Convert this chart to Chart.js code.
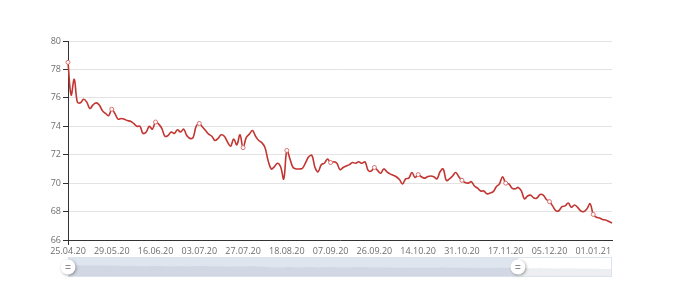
<!DOCTYPE html>
<html>
<head>
<meta charset="utf-8">
<script src="https://cdn.jsdelivr.net/npm/chart.js@4"></script>
<style>
  html, body { margin: 0; padding: 0; background: #fff; }
  #wrap { width: 680px; height: 282px; }
</style>
</head>
<body>
<div id="wrap"><canvas id="priceChart"></canvas></div>
<script>
const tickLabels = ['25.04.20', '29.05.20', '16.06.20', '03.07.20', '27.07.20', '18.08.20', '07.09.20',
    '26.09.20', '14.10.20', '31.10.20', '17.11.20', '05.12.20', '01.01.21'];
const labelStep = 14;

const prices = [
    78.5, 76.2, 77.3, 75.7, 75.65, 75.9, 75.7, 75.25, 75.5, 75.65, 75.5, 75.1, 74.9, 74.75,
    75.2, 74.9, 74.5, 74.55, 74.5, 74.4, 74.35, 74.2, 74.0, 74.0, 73.5, 73.6, 74.0, 73.8,
    74.3, 74.15, 73.85, 73.3, 73.35, 73.6, 73.5, 73.75, 73.6, 73.8, 73.35, 73.15, 73.2, 74.0,
    74.2, 73.95, 73.7, 73.45, 73.3, 73.0, 73.15, 73.4, 73.3, 72.9, 72.6, 73.1, 72.7, 73.4,
    72.5, 73.2, 73.45, 73.7, 73.3, 73.0, 72.85, 72.5, 71.6, 71.0, 71.15, 71.4, 71.15, 70.3,
    72.3, 71.7, 71.1, 71.0, 71.0, 71.05, 71.45, 71.85, 71.95, 71.1, 70.8, 71.3, 71.4, 71.7,
    71.45, 71.5, 71.4, 70.95, 71.1, 71.2, 71.3, 71.45, 71.4, 71.5, 71.4, 71.5, 70.9, 70.85,
    71.1, 70.9, 70.7, 71.0, 70.8, 70.65, 70.55, 70.45, 70.25, 69.95, 70.3, 70.35, 70.75, 70.4,
    70.6, 70.45, 70.35, 70.45, 70.5, 70.45, 70.3, 70.8, 71.0, 70.2, 70.3, 70.5, 70.75, 70.45,
    70.2, 70.05, 70.0, 70.1, 69.8, 69.65, 69.45, 69.45, 69.25, 69.3, 69.4, 69.75, 69.95, 70.45,
    70.0, 69.95, 69.65, 69.6, 69.7, 69.45, 68.9, 69.1, 69.15, 68.95, 68.95, 69.2, 69.15, 68.85,
    68.7, 68.4, 68.06, 68.06, 68.34, 68.4, 68.6, 68.3, 68.46, 68.3, 68.05, 68.0, 68.2, 68.55,
    67.8, 67.6, 67.55, 67.45, 67.4, 67.3, 67.2
];

const zoomEnd = 82.7; // percent of the slider that is selected

const labels = prices.map((v, i) => i % labelStep === 0 ? tickLabels[i / labelStep] : '');

Chart.defaults.font.family = "'Open Sans', sans-serif";
Chart.defaults.font.size = 9;
Chart.defaults.color = '#6e6e6e';

// dataZoom-like slider under the axis, drawn by hand
const sliderPlugin = {
    id: 'slider',
    afterDraw(chart) {
        const { ctx, chartArea } = chart;
        const left = chartArea.left;
        const right = chartArea.right;
        const top = chartArea.bottom + 17;
        const h = 20;
        const w = right - left;
        const end = left + w * zoomEnd / 100;
        const lo = 49.1, hi = 94.3;

        ctx.save();
        // selected range
        ctx.fillStyle = 'rgba(150, 170, 200, 0.3)';
        ctx.fillRect(left, top, end - left, h);

        // data shadow
        ctx.beginPath();
        ctx.moveTo(left, top + h);
        prices.forEach((v, i) => {
            const x = left + i / (prices.length - 1) * w;
            const y = top + h - (v - lo) / (hi - lo) * h;
            ctx.lineTo(x, y);
        });
        ctx.lineTo(right, top + h);
        ctx.closePath();
        ctx.fillStyle = 'rgba(140, 150, 170, 0.16)';
        ctx.fill();

        ctx.strokeStyle = '#dde3ec';
        ctx.lineWidth = 1;
        ctx.strokeRect(left + 0.5, top + 0.5, w - 1, h - 1);

        // handles
        [left, end].forEach(cx => {
            const cy = top + h / 2;
            ctx.save();
            ctx.shadowColor = 'rgba(0, 0, 0, 0.35)';
            ctx.shadowBlur = 3;
            ctx.shadowOffsetX = 1;
            ctx.shadowOffsetY = 1;
            ctx.beginPath();
            ctx.arc(cx, cy, 7.5, 0, Math.PI * 2);
            ctx.fillStyle = '#fff';
            ctx.fill();
            ctx.restore();
            ctx.strokeStyle = '#8a8a8a';
            ctx.lineWidth = 1;
            ctx.beginPath();
            ctx.moveTo(cx - 2.5, cy - 1.5);
            ctx.lineTo(cx + 2.5, cy - 1.5);
            ctx.moveTo(cx - 2.5, cy + 1.5);
            ctx.lineTo(cx + 2.5, cy + 1.5);
            ctx.stroke();
        });
        ctx.restore();
    }
};

new Chart(document.getElementById('priceChart'), {
    type: 'line',
    data: {
        labels: labels,
        datasets: [{
            data: prices,
            borderColor: '#c23531',
            borderWidth: 1.6,
            tension: 0.4,
            fill: false,
            pointRadius: prices.map((v, i) => i % labelStep === 0 ? 2 : 0),
            pointBackgroundColor: '#fff',
            pointBorderColor: '#d9716e',
            pointBorderWidth: 1,
        }]
    },
    options: {
        responsive: true,
        maintainAspectRatio: false,
        animation: false,
        layout: { padding: { top: 41, right: 68, bottom: 0, left: 0 } },
        plugins: {
            legend: { display: false },
            tooltip: { enabled: false },
        },
        scales: {
            x: {
                offset: false,
                afterFit: scale => { scale.height = 42; },
                border: { color: '#333', width: 1 },
                grid: {
                    drawOnChartArea: false,
                    tickLength: 5,
                    tickColor: ctx => ctx.index % labelStep === 0 ? '#333' : 'rgba(0,0,0,0)',
                },
                ticks: {
                    autoSkip: false,
                    maxRotation: 0,
                    minRotation: 0,
                    padding: 1,
                    color: '#6e6e6e',
                    callback: function (value) {
                        const l = this.getLabelForValue(value);
                        return l === '' ? null : l;
                    },
                },
            },
            y: {
                min: 66,
                max: 80,
                afterFit: scale => { scale.width = 68; },
                border: { color: '#333', width: 1 },
                grid: { color: '#e3e3e3', tickColor: '#333', tickLength: 5 },
                ticks: { stepSize: 2, padding: 2, color: '#6e6e6e' },
            }
        }
    },
    plugins: [sliderPlugin]
});
</script>
</body>
</html>
